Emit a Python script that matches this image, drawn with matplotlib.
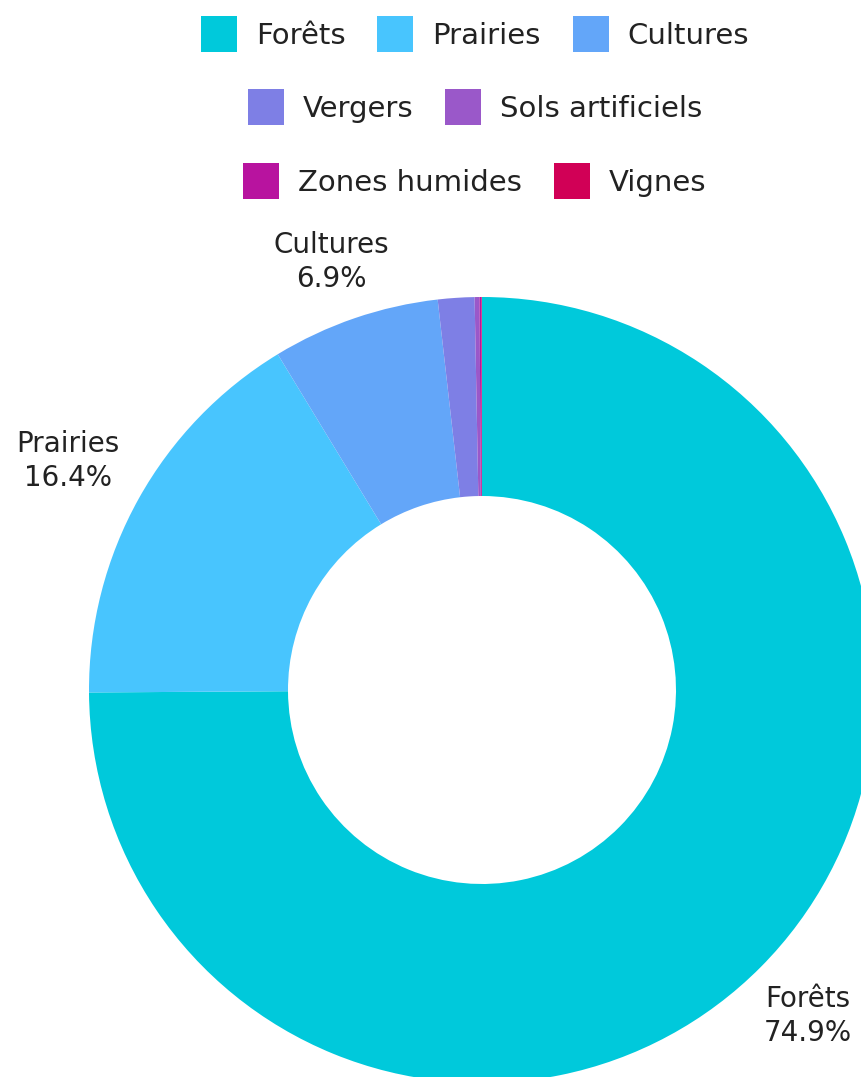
import matplotlib
matplotlib.use("Agg")
import matplotlib.pyplot as plt

# land use shares (%)
categories = ["Forêts", "Prairies", "Cultures", "Vergers",
              "Sols artificiels", "Zones humides", "Vignes"]
values = [74.9, 16.4, 6.9, 1.5, 0.2, 0.08, 0.02]
colors = ["#00c9db", "#48c5fe", "#63a6f9", "#7e7fe5",
          "#9a58c9", "#b8139f", "#d10056"]
legend_rows = [[0, 1, 2], [3, 4], [5, 6]]

W, H = 862, 1077
plt.rcParams['font.family'] = ['DejaVu Sans']
fig = plt.figure(figsize=(W / 100, H / 100), dpi=100)
ax = fig.add_axes([0, 0, 1, 1])

cx, cy, R = 482, H - 690, 393
wedges, _ = ax.pie(values, colors=colors, startangle=90, counterclock=False,
                   center=(cx, cy), radius=R, frame=True,
                   wedgeprops=dict(width=199, linewidth=0))
ax.set_xlim(0, W)
ax.set_ylim(0, H)
ax.set_aspect('equal')
ax.axis('off')

# outside labels for the big slices
label_pos = {0: (808, H - 1016), 1: (68, H - 461), 2: (331, H - 262)}
for i, (x, y) in label_pos.items():
    ax.text(x, y, f"{categories[i]}\n{values[i]:.1f}%", ha='center', va='center',
            fontsize=20, color='#222222', linespacing=1.3)

# legend, three centred rows
row_y = [34, 107, 181]
for row, y in zip(legend_rows, row_y):
    fig.legend([wedges[i] for i in row], [categories[i] for i in row],
               loc='center', bbox_to_anchor=(475 / W, 1 - y / H), ncol=len(row),
               frameon=False, fontsize=21, handlelength=1.23, handleheight=1.55,
               handletextpad=0.65, columnspacing=1.1, labelcolor='#222222')

fig.savefig("out.png", dpi=100)
